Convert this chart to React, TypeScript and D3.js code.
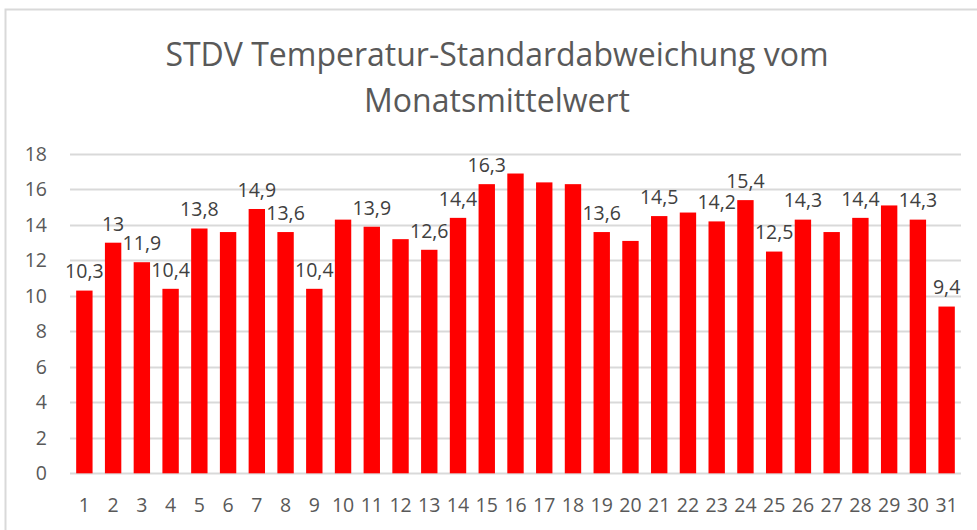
import React, { useEffect, useRef } from "react";
import * as d3 from "d3";

const days = Array.from({ length: 31 }, (_, i) => String(i + 1));
const values = [
  10.3, 13, 11.9, 10.4, 13.8, 13.6, 14.9, 13.6, 10.4, 14.3, 13.9, 13.2, 12.6, 14.4, 16.3, 16.9,
  16.4, 16.3, 13.6, 13.1, 14.5, 14.7, 14.2, 15.4, 12.5, 14.3, 13.6, 14.4, 15.1, 14.3, 9.4,
];
const showLabel = [
  true, true, true, true, true, false, true, true, true, false, true, false, true, true, true, false,
  false, false, true, false, true, false, true, true, true, true, false, true, false, true, true,
];
const yTicks = [0, 2, 4, 6, 8, 10, 12, 14, 16, 18];
const titleLines = ["STDV Temperatur-Standardabweichung vom", "Monatsmittelwert"];

const W = 977;
const H = 530;

export default function App() {
  const ref = useRef<SVGSVGElement | null>(null);

  useEffect(() => {
    const svg = d3.select(ref.current);
    svg.selectAll("*").remove();
    const font = "'Open Sans', 'Liberation Sans', sans-serif";
    const grey = "#595959";

    svg
      .append("rect")
      .attr("x", 5.5)
      .attr("y", 9.5)
      .attr("width", W + 10)
      .attr("height", H + 10)
      .attr("fill", "white")
      .attr("stroke", "#d9d9d9")
      .attr("stroke-width", 2);

    const x = d3.scaleBand<string>().domain(days).range([70, 961]).paddingInner(0.43).paddingOuter(0.215);
    const y = d3.scaleLinear().domain([0, 18]).range([473.3, 154]);

    // title
    svg
      .append("g")
      .selectAll("text")
      .data(titleLines)
      .join("text")
      .attr("x", 497)
      .attr("y", (_, i) => 66 + i * 46)
      .attr("text-anchor", "middle")
      .attr("font-family", font)
      .attr("font-size", 32)
      .attr("fill", grey)
      .text((d) => d);

    // gridlines
    svg
      .append("g")
      .selectAll("line")
      .data(yTicks)
      .join("line")
      .attr("x1", 70)
      .attr("x2", 961)
      .attr("y1", (d) => Math.round(y(d)) + 0.5)
      .attr("y2", (d) => Math.round(y(d)) + 0.5)
      .attr("stroke", "#d9d9d9")
      .attr("stroke-width", 2);

    // y labels
    svg
      .append("g")
      .selectAll("text")
      .data(yTicks)
      .join("text")
      .attr("x", 47)
      .attr("y", (d) => y(d))
      .attr("dy", "0.35em")
      .attr("text-anchor", "end")
      .attr("font-family", font)
      .attr("font-size", 19.5)
      .attr("fill", grey)
      .text((d) => String(d));

    // bars
    svg
      .append("g")
      .selectAll("rect")
      .data(values)
      .join("rect")
      .attr("x", (_, i) => x(days[i]) as number)
      .attr("y", (d) => y(d))
      .attr("width", x.bandwidth())
      .attr("height", (d) => y(0) - y(d))
      .attr("fill", "#ff0000");

    // data labels
    svg
      .append("g")
      .selectAll("text")
      .data(values.map((v, i) => ({ v, i })).filter((d) => showLabel[d.i]))
      .join("text")
      .attr("x", (d) => (x(days[d.i]) as number) + x.bandwidth() / 2)
      .attr("y", (d) => y(d.v) - 19)
      .attr("dy", "0.35em")
      .attr("text-anchor", "middle")
      .attr("font-family", font)
      .attr("font-size", 19.5)
      .attr("fill", "#404040")
      .text((d) => String(d.v).replace(".", ","));

    // x labels
    svg
      .append("g")
      .selectAll("text")
      .data(days)
      .join("text")
      .attr("x", (d) => (x(d) as number) + x.bandwidth() / 2)
      .attr("y", 505)
      .attr("dy", "0.35em")
      .attr("text-anchor", "middle")
      .attr("font-family", font)
      .attr("font-size", 19.5)
      .attr("fill", grey)
      .text((d) => d);
  }, []);

  return (
    <svg
      ref={ref}
      width={W}
      height={H}
      style={{ position: "absolute", left: 0, top: 0, background: "white" }}
    />
  );
}
